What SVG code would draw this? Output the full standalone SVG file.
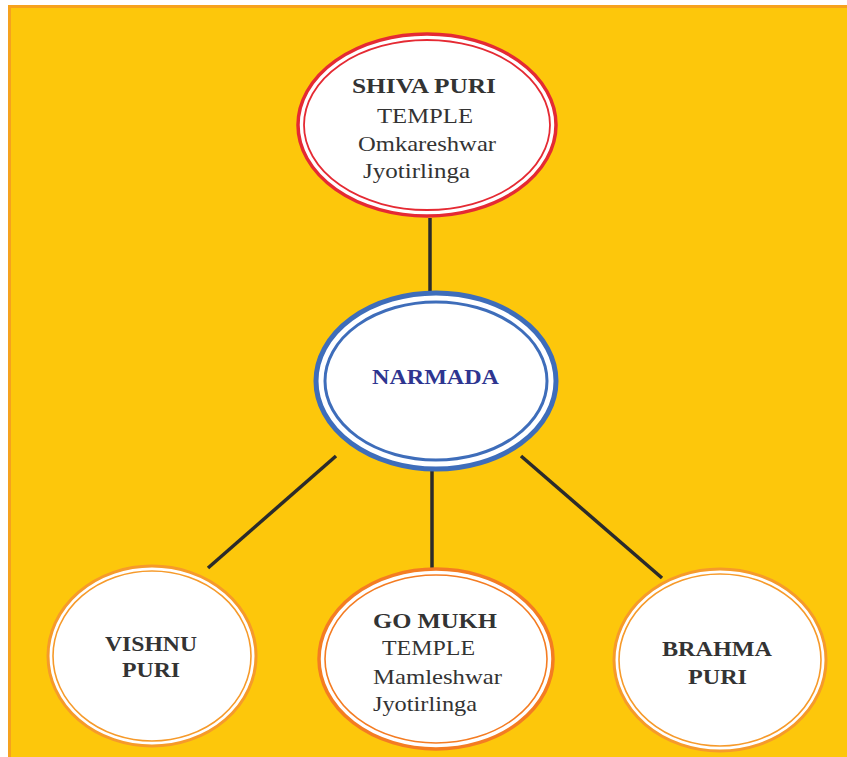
<svg xmlns="http://www.w3.org/2000/svg" width="847" height="757" viewBox="0 0 847 757">
<style>
.t{font-family:"Liberation Serif","Times New Roman",serif;font-size:22px;fill:#333333}
.b{font-weight:bold}
.fill{fill:#ffffff}
.edge{stroke:#2b2b2b;stroke-width:3.5;fill:none}
</style>
<rect x="0" y="0" width="847" height="757" fill="#ffffff"/>
<rect x="8" y="5" width="839" height="752" fill="#FDC70B"/>
<path d="M9.5 757 V6.5 H847" fill="none" stroke="#F6A21E" stroke-width="3"/>
<g id="connectors">
<line class="edge" x1="430" y1="218" x2="430" y2="293"/>
<line class="edge" x1="336" y1="456" x2="208" y2="568"/>
<line class="edge" x1="432" y1="470" x2="432" y2="569"/>
<line class="edge" x1="521" y1="456" x2="662" y2="578"/>
</g>
<g id="shiva">
<ellipse cx="427" cy="125" rx="129" ry="91" class="fill" stroke="#E52A33" stroke-width="3.5"/>
<ellipse cx="427" cy="125" rx="123" ry="85" fill="none" stroke="#E52A33" stroke-width="1.8"/>
<text class="t b" x="352" y="93" textLength="144" lengthAdjust="spacingAndGlyphs">SHIVA PURI</text>
<text class="t" x="377" y="123" textLength="96" lengthAdjust="spacingAndGlyphs">TEMPLE</text>
<text class="t" x="358" y="151" textLength="138" lengthAdjust="spacingAndGlyphs">Omkareshwar</text>
<text class="t" x="363" y="178" textLength="107" lengthAdjust="spacingAndGlyphs">Jyotirlinga</text>
</g>
<g id="narmada">
<ellipse cx="436" cy="381" rx="120" ry="88" class="fill" stroke="#3E6DBA" stroke-width="5"/>
<ellipse cx="436" cy="381" rx="111" ry="79" fill="none" stroke="#3E6DBA" stroke-width="3"/>
<text class="t b" x="372" y="384" textLength="127" lengthAdjust="spacingAndGlyphs" style="fill:#2E3590">NARMADA</text>
</g>
<g id="vishnu">
<ellipse cx="152" cy="656" rx="104" ry="90" class="fill" stroke="#F69A2A" stroke-width="3"/>
<ellipse cx="152" cy="656" rx="99" ry="85" fill="none" stroke="#F69A2A" stroke-width="1.6"/>
<text class="t b" x="105" y="651" textLength="92" lengthAdjust="spacingAndGlyphs">VISHNU</text>
<text class="t b" x="122" y="677" textLength="58" lengthAdjust="spacingAndGlyphs">PURI</text>
</g>
<g id="gomukh">
<ellipse cx="436" cy="659" rx="117" ry="90" class="fill" stroke="#F47C22" stroke-width="3.5"/>
<ellipse cx="436" cy="659" rx="111" ry="84" fill="none" stroke="#F47C22" stroke-width="1.6"/>
<text class="t b" x="373" y="628" textLength="124" lengthAdjust="spacingAndGlyphs">GO MUKH</text>
<text class="t" x="382" y="655" textLength="93" lengthAdjust="spacingAndGlyphs">TEMPLE</text>
<text class="t" x="373" y="684" textLength="129" lengthAdjust="spacingAndGlyphs">Mamleshwar</text>
<text class="t" x="373" y="711" textLength="104" lengthAdjust="spacingAndGlyphs">Jyotirlinga</text>
</g>
<g id="brahma">
<ellipse cx="720" cy="660" rx="106" ry="91" class="fill" stroke="#F69A2A" stroke-width="3"/>
<ellipse cx="720" cy="660" rx="101" ry="86" fill="none" stroke="#F69A2A" stroke-width="1.6"/>
<text class="t b" x="662" y="656" textLength="110" lengthAdjust="spacingAndGlyphs">BRAHMA</text>
<text class="t b" x="688" y="684" textLength="59" lengthAdjust="spacingAndGlyphs">PURI</text>
</g>
</svg>
